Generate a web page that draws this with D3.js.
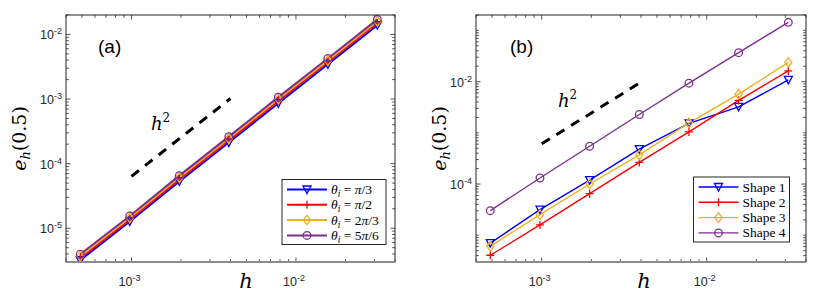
<!DOCTYPE html>
<html>
<head>
<meta charset="utf-8">
<script src="https://cdn.jsdelivr.net/npm/d3@7"></script>
<style>
  body { margin: 0; background: #fff; }
  svg { display: block; }
  .tick-label { font-family: "Liberation Sans", Arial, sans-serif; font-size: 12.5px; fill: #262626; }
</style>
</head>
<body>
<svg id="fig" width="822" height="308"></svg>
<script>
// mesh sizes h
var hValues = [1/2048, 1/1024, 1/512, 1/256, 1/128, 1/64, 1/32];

// (a) error for different angles
var thetaLabels = ["π/3", "π/2", "2π/3", "5π/6"];
var errThetaPi3  = [3.2e-6, 1.27e-5, 5.3e-5, 2.12e-4, 8.6e-4, 3.45e-3, 1.39e-2];
var errThetaPi2  = [3.45e-6, 1.36e-5, 5.7e-5, 2.28e-4, 9.3e-4, 3.7e-3, 1.5e-2];
var errTheta2Pi3 = [3.7e-6, 1.45e-5, 6.1e-5, 2.45e-4, 1.0e-3, 3.95e-3, 1.6e-2];
var errTheta5Pi6 = [3.96e-6, 1.55e-5, 6.52e-5, 2.62e-4, 1.07e-3, 4.25e-3, 1.71e-2];

// (b) error for different shapes
var shapeLabels = ["Shape 1", "Shape 2", "Shape 3", "Shape 4"];
var errShape1 = [7.0e-6, 3.16e-5, 1.19e-4, 4.81e-4, 1.53e-3, 3.21e-3, 1.08e-2];
var errShape2 = [4.06e-6, 1.59e-5, 6.47e-5, 2.64e-4, 1.04e-3, 4.3e-3, 1.62e-2];
var errShape3 = [6.08e-6, 2.52e-5, 1.0e-4, 3.72e-4, 1.57e-3, 5.68e-3, 2.37e-2];
var errShape4 = [3.02e-5, 1.31e-4, 5.46e-4, 2.28e-3, 9.31e-3, 3.67e-2, 0.144];

// h^2 reference lines
var refH = [1e-3, 4e-3];
var refErrA = [6.35e-5, 1.02e-3];
var refErrB = [6.1e-4, 9.76e-3];

// ticks
var xTicks = [1e-3, 1e-2];
var yTicksA = [1e-5, 1e-4, 1e-3, 1e-2];
var yTicksB = [1e-4, 1e-2];

var colors = ["#0000ff", "#ff0000", "#edb120", "#7e2f8e"];
var markers = ["tri", "plus", "diamond", "circle"];
var serif = "'DejaVu Serif', serif";

var svg = d3.select("#fig");

function markerPath(type) {
	if (type == "tri") return "M-4,-3.5L4,-3.5L0,4Z";
	if (type == "plus") return "M-4,0L4,0M0,-4L0,4";
	if (type == "diamond") return "M0,-4.8L3.6,0L0,4.8L-3.6,0Z";
	return d3.symbol().type(d3.symbolCircle).size(46)();
}

function expLabel(sel, v) {
	var e = Math.round(Math.log10(v));
	sel.text("10").append("tspan").attr("dy", -5).attr("font-size", "9px").text("-" + Math.abs(e));
}

function panel(cfg) {
	var x = d3.scaleLog().domain([4e-4, 4e-2]).range([cfg.left, cfg.right]);
	var y = d3.scaleLog().domain(cfg.yDomain).range([cfg.bottom, cfg.top]);
	var g = svg.append("g");

	g.append("defs").append("clipPath").attr("id", cfg.id + "clip")
		.append("rect").attr("x", cfg.left).attr("y", cfg.top)
		.attr("width", cfg.right - cfg.left).attr("height", cfg.bottom - cfg.top);

	// ticks inside on all four sides
	var xMinor = [], yMinor = [];
	for (var p = -4; p <= -2; p++) for (var k = 2; k < 10; k++) {
		var v = k * Math.pow(10, p);
		if (v >= 4e-4 && v <= 4e-2) xMinor.push(v);
	}
	for (var p = -6; p <= 0; p++) for (var k = 1; k < 10; k++) {
		var v = k * Math.pow(10, p);
		var isMajor = cfg.yTicks.some(function (t) { return Math.abs(t - v) / t < 1e-9; });
		if (v >= cfg.yDomain[0] && v <= cfg.yDomain[1] && !isMajor) yMinor.push(v);
	}
	var tk = g.append("g").attr("stroke", "#262626").attr("stroke-width", 0.8);
	function xt(vals, len) {
		vals.forEach(function (v) {
			var px = x(v);
			tk.append("line").attr("x1", px).attr("x2", px).attr("y1", cfg.bottom).attr("y2", cfg.bottom - len);
			tk.append("line").attr("x1", px).attr("x2", px).attr("y1", cfg.top).attr("y2", cfg.top + len);
		});
	}
	function yt(vals, len) {
		vals.forEach(function (v) {
			var py = y(v);
			tk.append("line").attr("y1", py).attr("y2", py).attr("x1", cfg.left).attr("x2", cfg.left + len);
			tk.append("line").attr("y1", py).attr("y2", py).attr("x1", cfg.right).attr("x2", cfg.right - len);
		});
	}
	xt(xTicks, 4.5); xt(xMinor, 2.8);
	yt(cfg.yTicks, 4.5); yt(yMinor, 2.8);

	// tick labels
	xTicks.forEach(function (v) {
		g.append("text").attr("class", "tick-label").attr("x", x(v) - 2).attr("y", 286)
			.attr("text-anchor", "middle").call(expLabel, v);
	});
	cfg.yTicks.forEach(function (v) {
		g.append("text").attr("class", "tick-label").attr("x", cfg.left - 4).attr("y", y(v) + 5)
			.attr("text-anchor", "end").call(expLabel, v);
	});

	// reference slope
	var line = d3.line().x(function (d) { return x(d[0]); }).y(function (d) { return y(d[1]); });
	g.append("path").datum(d3.zip(refH, cfg.ref)).attr("d", line)
		.attr("fill", "none").attr("stroke", "#000").attr("stroke-width", 3)
		.attr("stroke-dasharray", "9.5,7.8");
	var hl = g.append("text").attr("font-family", serif).attr("x", cfg.hx).attr("y", cfg.hy)
		.attr("font-size", "18px").attr("font-style", "italic").text("h");
	hl.append("tspan").attr("dy", -8).attr("font-size", "12px").attr("font-style", "normal").text("2");

	// series
	var plot = g.append("g").attr("clip-path", "url(#" + cfg.id + "clip)");
	cfg.series.forEach(function (s, i) {
		plot.append("path").datum(d3.zip(hValues, s)).attr("d", line)
			.attr("fill", "none").attr("stroke", colors[i]).attr("stroke-width", cfg.lw);
	});
	cfg.series.forEach(function (s, i) {
		plot.selectAll(null).data(d3.zip(hValues, s)).enter().append("path")
			.attr("transform", function (d) { return "translate(" + x(d[0]) + "," + y(d[1]) + ")"; })
			.attr("d", markerPath(markers[i]))
			.attr("fill", "none").attr("stroke", colors[i]).attr("stroke-width", 1.3);
	});

	// box
	g.append("rect").attr("x", cfg.left).attr("y", cfg.top)
		.attr("width", cfg.right - cfg.left).attr("height", cfg.bottom - cfg.top)
		.attr("fill", "none").attr("stroke", "#262626").attr("stroke-width", 1);
	g.append("line").attr("x1", cfg.left).attr("x2", cfg.right).attr("y1", cfg.bottom).attr("y2", cfg.bottom)
		.attr("stroke", "#8c8c8c").attr("stroke-width", 2);

	// panel tag
	g.append("text").attr("x", cfg.tagX).attr("y", 53)
		.attr("font-family", "Liberation Sans, Arial, sans-serif").attr("font-size", "19px").text(cfg.tag);

	// axis labels
	g.append("text").attr("font-family", serif).attr("x", cfg.xLabX).attr("y", 288)
		.attr("text-anchor", "middle").attr("font-size", "21px").attr("font-style", "italic").text("h");
	var yl = g.append("text").attr("font-family", serif).attr("font-size", "19px")
		.attr("text-anchor", "middle")
		.attr("transform", "translate(" + cfg.yLabX + "," + ((cfg.top + cfg.bottom) / 2) + ") rotate(-90)");
	yl.append("tspan").attr("font-style", "italic").text("e");
	yl.append("tspan").attr("font-style", "italic").attr("font-size", "13px").attr("dy", 4).text("h");
	yl.append("tspan").attr("dy", -4).text("(0.5)");

	// legend
	var L = cfg.legend;
	var lg = g.append("g");
	lg.append("rect").attr("x", L.x).attr("y", L.y).attr("width", L.w).attr("height", L.h)
		.attr("fill", "#fff").attr("stroke", "#262626").attr("stroke-width", 1);
	cfg.labels.forEach(function (lab, i) {
		var cy = L.y + 10 + i * 15.3;
		lg.append("line").attr("x1", L.x + 5).attr("x2", L.x + 45).attr("y1", cy).attr("y2", cy)
			.attr("stroke", colors[i]).attr("stroke-width", cfg.lw);
		lg.append("path").attr("transform", "translate(" + (L.x + 25) + "," + cy + ")")
			.attr("d", markerPath(markers[i])).attr("fill", "none").attr("stroke", colors[i]).attr("stroke-width", 1.3);
		var t = lg.append("text").attr("font-family", "Liberation Serif, serif").attr("x", L.x + 49).attr("y", cy + 4.5)
			.attr("font-size", "13.5px").attr("fill", "#000");
		if (cfg.theta) {
			t.append("tspan").attr("font-style", "italic").text("θ");
			t.append("tspan").attr("font-style", "italic").attr("font-size", "9.5px").attr("dy", 3).text("i");
			var m = lab.match(/^(\d?)π(.*)$/);
			t.append("tspan").attr("dy", -3).text(" = " + m[1]);
			t.append("tspan").attr("font-style", "italic").text("π");
			t.append("tspan").text(m[2]);
		} else {
			t.text(lab);
		}
	});
}

panel({
	id: "a", left: 66, right: 395, top: 15, bottom: 262,
	yDomain: [3e-6, 2e-2], yTicks: yTicksA,
	series: [errThetaPi3, errThetaPi2, errTheta2Pi3, errTheta5Pi6],
	labels: thetaLabels, theta: true, lw: 2,
	ref: refErrA, hx: 151, hy: 130,
	tag: "(a)", tagX: 98, xLabX: 246, yLabX: 26,
	legend: { x: 282, y: 179.5, w: 104, h: 65 }
});

panel({
	id: "b", left: 476, right: 806, top: 15, bottom: 262,
	yDomain: [3e-6, 0.2], yTicks: yTicksB,
	series: [errShape1, errShape2, errShape3, errShape4],
	labels: shapeLabels, theta: false, lw: 1.4,
	ref: refErrB, hx: 558, hy: 107,
	tag: "(b)", tagX: 510, xLabX: 644, yLabX: 446,
	legend: { x: 693.5, y: 177, w: 96, h: 65 }
});
</script>
</body>
</html>
